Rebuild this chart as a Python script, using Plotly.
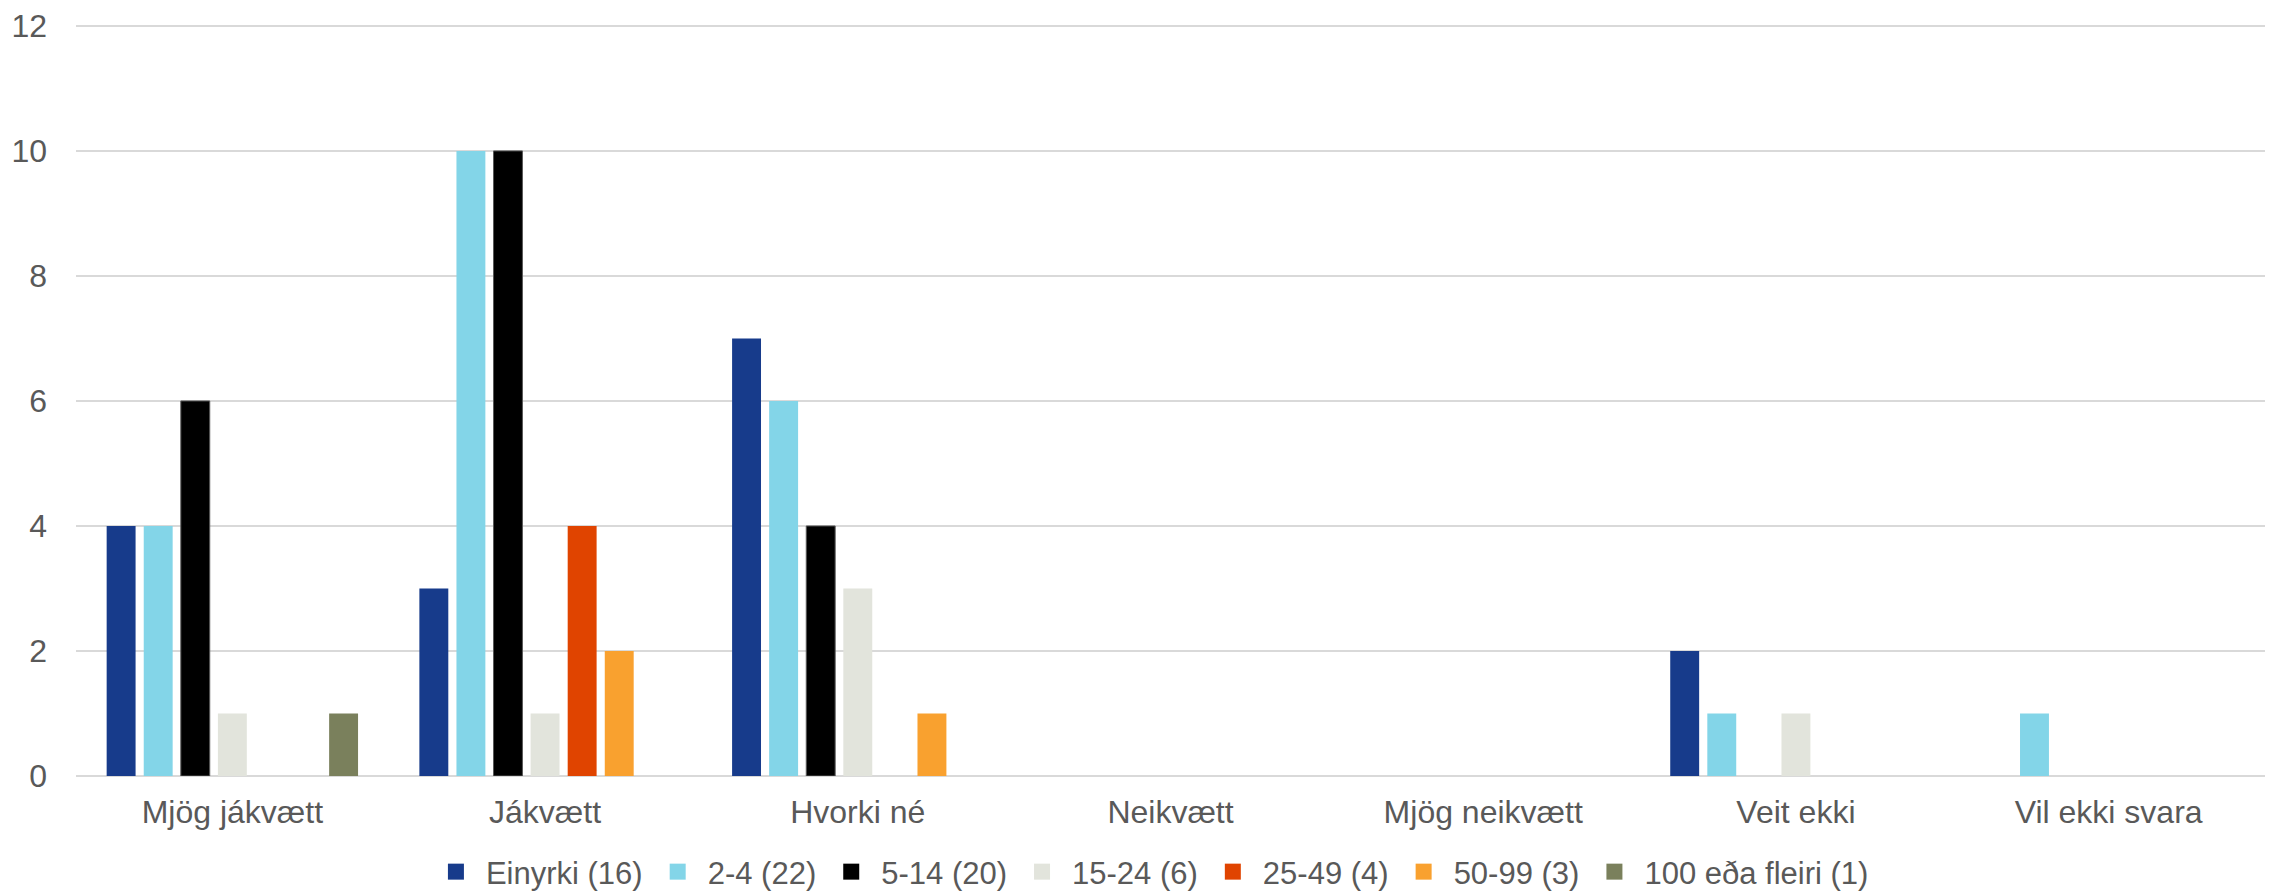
import plotly.graph_objects as go

categories = ["Mjög jákvætt", "Jákvætt", "Hvorki né", "Neikvætt", "Mjög neikvætt", "Veit ekki", "Vil ekki svara"]
series_names = ["Einyrki (16)", "2-4 (22)", "5-14 (20)", "15-24 (6)", "25-49 (4)", "50-99 (3)", "100 eða fleiri (1)"]
einyrki = [4, 3, 7, 0, 0, 2, 0]
s2_4 = [4, 10, 6, 0, 0, 1, 1]
s5_14 = [6, 10, 4, 0, 0, 0, 0]
s15_24 = [1, 1, 3, 0, 0, 1, 0]
s25_49 = [0, 4, 0, 0, 0, 0, 0]
s50_99 = [0, 2, 1, 0, 0, 0, 0]
s100 = [1, 0, 0, 0, 0, 0, 0]
y_ticks = [0, 2, 4, 6, 8, 10, 12]

series_values = [einyrki, s2_4, s5_14, s15_24, s25_49, s50_99, s100]
colors = ["#173B8B", "#83D5E8", "#000000", "#E2E4DC", "#E04400", "#F9A12F", "#7A805C"]
border_w = [0, 0, 1, 0, 0, 0, 0]

# page body has an 8px margin; figure coordinates are offset by it
W, H = 2269, 920
PLOT_TOP, PLOT_BOTTOM = 16, 768      # in figure pixels
LEGEND_CY = 864

fig = go.Figure()
for name, vals, c, bw in zip(series_names, series_values, colors, border_w):
    fig.add_trace(go.Bar(
        x=categories, y=[v if v else None for v in vals], name=name,
        marker=dict(color=c, line=dict(color="#595959", width=bw)),
        showlegend=False,
    ))
# legend entries (square swatches)
for name, c in zip(series_names, colors):
    fig.add_trace(go.Scatter(
        x=[None], y=[None], mode="markers", name=name,
        marker=dict(symbol="square", size=16, color=c, line=dict(width=0)),
        showlegend=True,
    ))

font_family = "Liberation Sans, Arial, sans-serif"
fs = 32
fig.update_layout(
    width=W, height=H,
    margin=dict(l=68, r=12, t=0, b=0),
    paper_bgcolor="white", plot_bgcolor="white",
    barmode="group", bargap=0.17, bargroupgap=0.22,
    font=dict(family=font_family, size=fs, color="#595959"),
    showlegend=True,
    legend=dict(orientation="h", x=0.4906, xanchor="center", y=(H - LEGEND_CY) / H, yanchor="middle",
                font=dict(size=31, color="#595959"), itemwidth=50, traceorder="normal",
                tracegroupgap=0),
    xaxis=dict(showgrid=False, showline=False, ticks="", automargin=False,
               ticklabelstandoff=14, tickfont=dict(size=fs, color="#595959")),
    yaxis=dict(domain=[(H - PLOT_BOTTOM) / H, 1 - PLOT_TOP / H], range=[0, 12.03], tickvals=y_ticks,
               showgrid=True, gridcolor="#D9D9D9", gridwidth=2,
               zeroline=True, zerolinecolor="#D9D9D9", zerolinewidth=2, showline=False, automargin=False,
               ticks="", ticklabelstandoff=28, tickfont=dict(size=fs, color="#595959")),
)

fig.write_html("out.html")
